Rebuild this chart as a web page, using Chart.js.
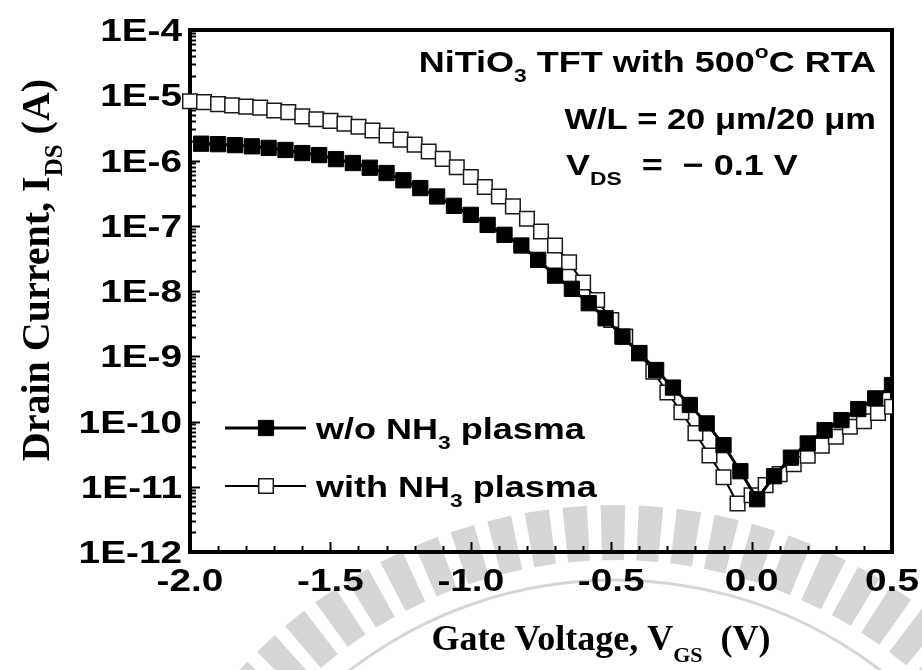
<!DOCTYPE html>
<html>
<head>
<meta charset="utf-8">
<script src="https://cdn.jsdelivr.net/npm/chart.js@4.4.1/dist/chart.umd.min.js"></script>
<style>
  html, body { margin: 0; padding: 0; background: #ffffff; }
  #wrap { position: relative; width: 922px; height: 670px; }
</style>
</head>
<body>
<div id="wrap"><canvas id="chart" width="922" height="670"></canvas></div>
<script>
// Gate voltage sweeps (V) and drain current (A) for the two devices
const vgsWithout = [-1.96, -1.90, -1.84, -1.78, -1.72, -1.66, -1.60, -1.54, -1.48, -1.42,
                    -1.36, -1.30, -1.24, -1.18, -1.12, -1.06, -1.00, -0.94, -0.88, -0.82,
                    -0.76, -0.70, -0.64, -0.58, -0.52, -0.46, -0.40, -0.34, -0.28, -0.22,
                    -0.16, -0.10, -0.04, 0.02, 0.08, 0.14, 0.20, 0.26, 0.32, 0.38, 0.44, 0.50];
const idsWithout = [1.81e-6, 1.78e-6, 1.72e-6, 1.65e-6, 1.56e-6, 1.45e-6, 1.30e-6, 1.21e-6, 1.05e-6, 9.15e-7,
                    7.75e-7, 6.43e-7, 4.98e-7, 3.78e-7, 2.81e-7, 2.02e-7, 1.47e-7, 1.03e-7, 7.26e-8, 4.98e-8,
                    3.00e-8, 1.72e-8, 1.08e-8, 6.50e-9, 3.82e-9, 2.00e-9, 1.12e-9, 6.15e-10, 3.31e-10, 1.79e-10,
                    9.35e-11, 4.34e-11, 1.73e-11, 6.44e-12, 1.45e-11, 2.79e-11, 4.61e-11, 7.38e-11, 1.05e-10, 1.55e-10,
                    2.26e-10, 3.62e-10];

const vgsWith = [-2.00, -1.95, -1.90, -1.85, -1.80, -1.75, -1.70, -1.65, -1.60, -1.55,
                 -1.50, -1.45, -1.40, -1.35, -1.30, -1.25, -1.20, -1.15, -1.10, -1.05,
                 -1.00, -0.95, -0.90, -0.85, -0.80, -0.75, -0.70, -0.65, -0.60, -0.55,
                 -0.50, -0.45, -0.40, -0.35, -0.30, -0.25, -0.20, -0.15, -0.10, -0.05,
                 0.00, 0.05, 0.10, 0.15, 0.20, 0.25, 0.30, 0.35, 0.40, 0.45, 0.50];
const idsWith = [8.07e-6, 7.85e-6, 7.31e-6, 6.99e-6, 6.70e-6, 6.46e-6, 5.85e-6, 5.51e-6, 4.75e-6, 4.30e-6,
                 4.05e-6, 3.65e-6, 3.30e-6, 2.89e-6, 2.42e-6, 2.09e-6, 1.75e-6, 1.37e-6, 1.06e-6, 7.89e-7,
                 5.60e-7, 3.92e-7, 2.81e-7, 1.98e-7, 1.28e-7, 8.16e-8, 4.98e-8, 2.75e-8, 1.35e-8, 7.30e-9,
                 3.60e-9, 2.00e-9, 1.11e-9, 5.79e-10, 2.78e-10, 1.39e-10, 6.64e-11, 3.02e-11, 1.40e-11, 5.53e-12,
                 7.42e-12, 1.06e-11, 1.56e-11, 2.22e-11, 3.00e-11, 4.27e-11, 5.82e-11, 8.29e-11, 1.01e-10, 1.35e-10,
                 1.68e-10];

// Axis ticks
const xTickValues = [-2.0, -1.5, -1.0, -0.5, 0.0, 0.5];
const xTickLabels = ['-2.0', '-1.5', '-1.0', '-0.5', '0.0', '0.5'];
const yTickValues = [1e-12, 1e-11, 1e-10, 1e-9, 1e-8, 1e-7, 1e-6, 1e-5, 1e-4];
const yTickLabels = ['1E-12', '1E-11', '1E-10', '1E-9', '1E-8', '1E-7', '1E-6', '1E-5', '1E-4'];

// Text pieces: [text, role] where role is 'n' normal, 'sub' subscript, 'sup' superscript
const seriesLabels = [
  [['w/o NH', 'n'], ['3', 'sub'], [' plasma', 'n']],
  [['with NH', 'n'], ['3', 'sub'], [' plasma', 'n']]
];
const noteLines = [
  [['NiTiO', 'n'], ['3', 'sub'], [' TFT with 500', 'n'], ['o', 'sup'], ['C RTA', 'n']],
  [['W/L = 20 \u03bcm/20 \u03bcm', 'n']],
  [['V', 'n'], ['DS', 'sub'], ['  =  \u2212 0.1 V', 'n']]
];
const xTitle = [['Gate Voltage, V', 'n'], ['GS', 'sub'], ['  (V)', 'n']];
const yTitle = [['Drain Current, I', 'n'], ['DS', 'sub'], [' (A)', 'n']];

const SANS = '"Liberation Sans", Arial, Helvetica, sans-serif';
const SERIF = '"Liberation Serif", "Times New Roman", serif';

// Writes a run of normal / subscript / superscript pieces, optionally stretched or rotated
function drawRich(ctx, parts, x, y, o) {
  const size = o.size, fam = o.family;
  const subSize = Math.round(size * 0.62);
  const fontFor = r => 'bold ' + (r === 'n' ? size : subSize) + 'px ' + fam;
  const sx = o.stretch || 1;
  let total = 0;
  const widths = parts.map(([t, r]) => { ctx.font = fontFor(r); const w = ctx.measureText(t).width; total += w; return w; });
  ctx.save();
  ctx.translate(x, y);
  if (o.rotate) ctx.rotate(o.rotate);
  ctx.scale(sx, 1);
  let cx = o.align === 'right' ? -total : o.align === 'center' ? -total / 2 : 0;
  ctx.fillStyle = '#000';
  ctx.textBaseline = 'alphabetic';
  ctx.textAlign = 'left';
  parts.forEach(([t, r], i) => {
    ctx.font = fontFor(r);
    const dy = r === 'sub' ? size * 0.32 : r === 'sup' ? -size * 0.48 : 0;
    ctx.fillText(t, cx, dy);
    cx += widths[i];
  });
  ctx.restore();
}

const TICK_FONT = 31, TICK_STRETCH = 1.25;
const NOTE_FONT = 30, NOTE_STRETCH = 1.2;

// Faint emblem printed behind the lower part of the figure
const emblem = {
  id: 'emblem',
  beforeDraw(chart) {
    const { ctx } = chart;
    const cx = 615, cy = 1015;
    ctx.save();
    ctx.fillStyle = '#d6d6d6';
    ctx.strokeStyle = '#d6d6d6';
    const r1 = 455, r2 = 510, w = 0.024;
    for (let a = -2.40; a <= -0.74; a += 0.075) {
      ctx.beginPath();
      ctx.moveTo(cx + r1 * Math.cos(a - w), cy + r1 * Math.sin(a - w));
      ctx.lineTo(cx + r2 * Math.cos(a - w), cy + r2 * Math.sin(a - w));
      ctx.lineTo(cx + r2 * Math.cos(a + w), cy + r2 * Math.sin(a + w));
      ctx.lineTo(cx + r1 * Math.cos(a + w), cy + r1 * Math.sin(a + w));
      ctx.closePath();
      ctx.fill();
    }
    ctx.lineWidth = 3;
    ctx.beginPath();
    ctx.arc(cx, cy, 435, -2.5, -0.6);
    ctx.stroke();
    ctx.restore();
  }
};

const frameAndTicks = {
  id: 'frameAndTicks',
  beforeDatasetsDraw(chart) {
    const { ctx, chartArea: a, scales: { x, y } } = chart;
    ctx.save();
    ctx.strokeStyle = '#000';
    ctx.lineCap = 'butt';
    // x ticks (pointing into the plot)
    ctx.lineWidth = 2;
    for (let k = 0; k <= 25; k++) {
      const v = -2 + k * 0.1;
      const px = Math.round(x.getPixelForValue(v)) + 0.5;
      const len = (k % 5 === 0) ? 10 : 6;
      ctx.beginPath(); ctx.moveTo(px, a.bottom); ctx.lineTo(px, a.bottom - len); ctx.stroke();
    }
    // y ticks, decades and 2..9 minors
    for (let e = -12; e <= -4; e++) {
      for (let m = 1; m <= 9; m++) {
        if (e === -4 && m > 1) break;
        const py = Math.round(y.getPixelForValue(m * Math.pow(10, e))) + 0.5;
        const len = m === 1 ? 10 : 6;
        ctx.beginPath(); ctx.moveTo(a.left, py); ctx.lineTo(a.left + len, py); ctx.stroke();
      }
    }
    // frame
    ctx.lineWidth = 4;
    ctx.strokeRect(a.left, a.top, a.right - a.left, a.bottom - a.top);
    ctx.restore();
  },
  afterDraw(chart) {
    const { ctx, chartArea: a, scales: { x, y } } = chart;
    const ds = chart.data.datasets;
    // tick labels placed by the scales
    x.ticks.forEach(t => {
      const k = xTickValues.findIndex(v => Math.abs(v - t.value) < 1e-9);
      if (k < 0) return;
      drawRich(ctx, [[xTickLabels[k], 'n']], x.getPixelForValue(t.value), a.bottom + 39,
        { size: TICK_FONT, family: SANS, align: 'center', stretch: TICK_STRETCH });
    });
    y.ticks.forEach(t => {
      const k = yTickValues.findIndex(v => Math.abs(Math.log10(v) - Math.log10(t.value)) < 1e-6);
      if (k < 0) return;
      drawRich(ctx, [[yTickLabels[k], 'n']], a.left - 8, y.getPixelForValue(t.value) + 11,
        { size: TICK_FONT, family: SANS, align: 'right', stretch: TICK_STRETCH });
    });
    // annotation block
    drawRich(ctx, noteLines[0], 876, 72, { size: NOTE_FONT, family: SANS, align: 'right', stretch: NOTE_STRETCH });
    drawRich(ctx, noteLines[1], 876, 129, { size: NOTE_FONT, family: SANS, align: 'right', stretch: 1.15 });
    drawRich(ctx, noteLines[2], 566, 175, { size: NOTE_FONT, family: SANS, align: 'left', stretch: NOTE_STRETCH });
    // legend
    const rows = [428, 486];
    rows.forEach((ry, i) => {
      const d = ds[i];
      ctx.save();
      ctx.strokeStyle = '#000';
      ctx.lineWidth = d.borderWidth;
      ctx.beginPath(); ctx.moveTo(225, ry); ctx.lineTo(306, ry); ctx.stroke();
      ctx.fillStyle = d.pointBackgroundColor; ctx.strokeStyle = d.pointBorderColor; ctx.lineWidth = d.pointBorderWidth;
      const s = d.pointRadius * Math.SQRT1_2;
      ctx.beginPath();
      ctx.rect(266 - s, ry - s, 2 * s, 2 * s);
      ctx.fill(); ctx.stroke();
      ctx.restore();
      drawRich(ctx, seriesLabels[i], 316, ry + 11, { size: NOTE_FONT, family: SANS, align: 'left', stretch: NOTE_STRETCH });
    });
    // axis titles
    drawRich(ctx, xTitle, 601, 650, { size: 36, family: SERIF, align: 'center' });
    drawRich(ctx, yTitle, 49, 270, { size: 40, family: SERIF, align: 'center', rotate: -Math.PI / 2 });
  }
};

const ctx = document.getElementById('chart').getContext('2d');
new Chart(ctx, {
  type: 'line',
  data: {
    datasets: [
      {
        label: 'w/o NH3 plasma',
        data: vgsWithout.map((v, i) => ({ x: v, y: idsWithout[i] })),
        borderColor: '#000', borderWidth: 3,
        pointStyle: 'rect', pointRadius: 10.8, pointBorderWidth: 1,
        pointBackgroundColor: '#000', pointBorderColor: '#000',
        tension: 0, clip: { left: 14, right: 0, top: 10, bottom: 10 }
      },
      {
        label: 'with NH3 plasma',
        data: vgsWith.map((v, i) => ({ x: v, y: idsWith[i] })),
        borderColor: '#000', borderWidth: 2,
        pointStyle: 'rect', pointRadius: 10.3, pointBorderWidth: 1.5,
        pointBackgroundColor: '#fff', pointBorderColor: '#1a1a1a',
        tension: 0, clip: { left: 14, right: 0, top: 10, bottom: 10 }
      }
    ]
  },
  options: {
    responsive: false,
    animation: false,
    devicePixelRatio: 1,
    layout: { padding: { top: 30, right: 30, left: 0, bottom: 0 } },
    plugins: { legend: { display: false }, tooltip: { enabled: false }, title: { display: false } },
    scales: {
      x: {
        type: 'linear', min: -2, max: 0.5,
        grid: { display: false, drawTicks: false },
        border: { display: false },
        afterFit(s) { s.height = 118; },
        afterBuildTicks(s) { s.ticks = xTickValues.map(v => ({ value: v })); },
        ticks: { display: false }
      },
      y: {
        type: 'logarithmic', min: 1e-12, max: 1e-4,
        grid: { display: false, drawTicks: false },
        border: { display: false },
        afterFit(s) { s.width = 190; },
        afterBuildTicks(s) { s.ticks = yTickValues.map(v => ({ value: v })); },
        ticks: { display: false }
      }
    }
  },
  plugins: [emblem, frameAndTicks]
});
</script>
</body>
</html>
